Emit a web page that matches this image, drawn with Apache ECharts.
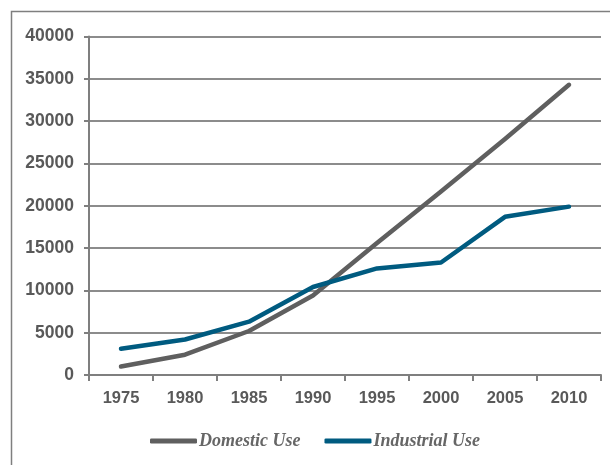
<!DOCTYPE html>
<html>
<head>
<meta charset="utf-8">
<script src="https://cdn.jsdelivr.net/npm/echarts@6/dist/echarts.min.js"></script>
<style>
  html, body { margin: 0; padding: 0; background: #fff; }
  #chart { width: 610px; height: 465px; }
</style>
</head>
<body>
<div id="chart"></div>
<script>
// Water use by year
var years = ['1975', '1980', '1985', '1990', '1995', '2000', '2005', '2010'];
var domesticUse = [1000, 2400, 5200, 9400, 15600, 21700, 27900, 34300];
var industrialUse = [3100, 4200, 6300, 10400, 12600, 13300, 18700, 19900];
var seriesNames = ['Domestic Use', 'Industrial Use'];

var chart = echarts.init(document.getElementById('chart'), null, { renderer: 'canvas' });

var axisText = { color: '#595959', fontFamily: 'Liberation Sans, Arial, sans-serif', fontWeight: 'bold', fontSize: 16.5 };

chart.setOption({
  animation: false,
  backgroundColor: '#ffffff',
  graphic: [{
    type: 'rect',
    left: 9, top: 9,
    shape: { width: 700, height: 500 },
    style: { fill: 'none', stroke: '#7f7f7f', lineWidth: 1.5 },
    silent: true
  }],
  grid: { left: 89, right: 9, top: 36.6, bottom: 90, containLabel: false },
  legend: {
    left: 145, top: 427,
    itemWidth: 47, itemHeight: 5, itemGap: 24,
    icon: 'roundRect',
    textStyle: { color: '#666666', fontFamily: 'Liberation Serif, Times New Roman, serif', fontStyle: 'italic', fontWeight: 'bold', fontSize: 18, padding: [0, 0, 0, -3] },
    data: seriesNames
  },
  xAxis: {
    type: 'category',
    data: years,
    boundaryGap: true,
    axisLine: { lineStyle: { color: '#7f7f7f', width: 2 } },
    axisTick: { show: true, length: 6, lineStyle: { color: '#7f7f7f', width: 2 } },
    axisLabel: Object.assign({ margin: 15 }, axisText),
    splitLine: { show: false }
  },
  yAxis: {
    type: 'value',
    min: 0, max: 40000, interval: 5000,
    axisLine: { show: true, lineStyle: { color: '#7f7f7f', width: 2 } },
    axisTick: { show: true, length: 5, lineStyle: { color: '#7f7f7f', width: 2 } },
    axisLabel: Object.assign({}, axisText, { margin: 15, fontSize: 17.5, formatter: function (v) { return String(v); } }),
    splitLine: { show: true, lineStyle: { color: '#8c8c8c', width: 2 } }
  },
  series: [
    {
      name: seriesNames[0], type: 'line', data: domesticUse,
      symbol: 'none', color: '#5f5f5f',
      lineStyle: { width: 4.5, color: '#5f5f5f', cap: 'round', join: 'round' },
      z: 3
    },
    {
      name: seriesNames[1], type: 'line', data: industrialUse,
      symbol: 'none', color: '#005b80',
      lineStyle: { width: 4.5, color: '#005b80', cap: 'round', join: 'round' },
      z: 4
    }
  ]
});
</script>
</body>
</html>
